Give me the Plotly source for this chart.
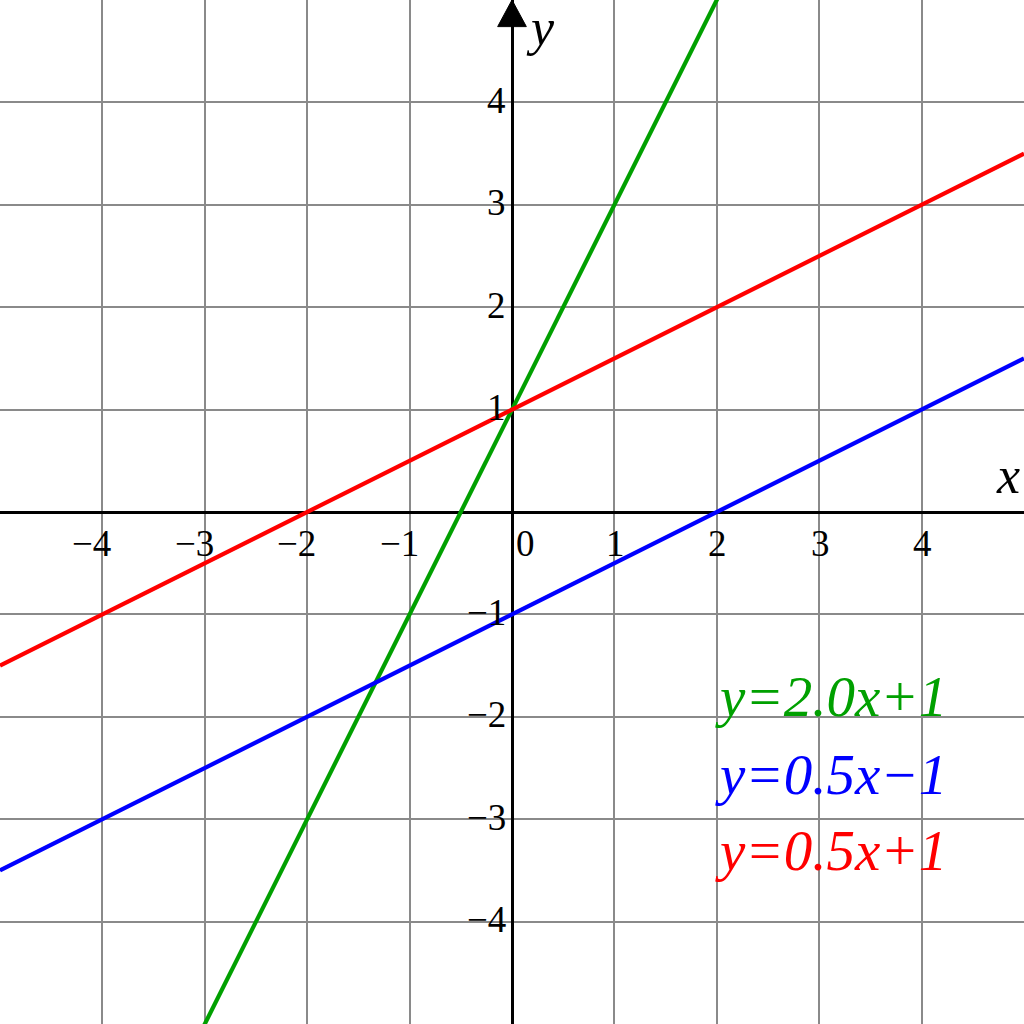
import plotly.graph_objects as go
import numpy as np

# Line definitions (y = m*x + b)
slopes = [2.0, 0.5, 0.5]
intercepts = [1, -1, 1]
colors = ["#00a000", "#0000ff", "#ff0000"]
labels = ["y=2.0x+1", "y=0.5x\u22121", "y=0.5x+1"]
label_y = [-1.80, -2.56, -3.31]
label_x = 2.0

tick_vals = [-4, -3, -2, -1, 1, 2, 3, 4]
x_range = [-5, 5]
y_range = [-5, 5]

SERIF = "Liberation Serif"
TICK_SIZE = 37

fig = go.Figure()

xs = np.array(x_range, dtype=float)
for m, b, c in zip(slopes, intercepts, colors):
    fig.add_trace(go.Scatter(x=xs, y=m * xs + b, mode="lines",
                             line=dict(color=c, width=4.2), showlegend=False,
                             hoverinfo="skip"))

annotations = []
tick_font = dict(family=SERIF, size=TICK_SIZE, color="black")
# x tick labels
for v in tick_vals:
    txt = ("\u2212" + str(-v)) if v < 0 else str(v)
    if v < 0:
        annotations.append(dict(x=v, y=0, xref="x", yref="y", text=txt,
                                showarrow=False, xanchor="right", yanchor="middle",
                                xshift=11, yshift=-31, font=tick_font))
    else:
        annotations.append(dict(x=v, y=0, xref="x", yref="y", text=txt,
                                showarrow=False, xanchor="center", yanchor="middle",
                                xshift=1, yshift=-31, font=tick_font))
# origin label
annotations.append(dict(x=0, y=0, xref="x", yref="y", text="0", showarrow=False,
                        xanchor="left", yanchor="middle", xshift=2, yshift=-31,
                        font=tick_font))
# y tick labels
for v in tick_vals:
    txt = ("\u2212" + str(-v)) if v < 0 else str(v)
    annotations.append(dict(x=0, y=v, xref="x", yref="y", text=txt,
                            showarrow=False, xanchor="right", yanchor="middle",
                            xshift=-4, yshift=2, font=tick_font))
# axis names
annotations.append(dict(x=5, y=0, xref="x", yref="y", text="<i>x</i>", showarrow=False,
                        xanchor="right", yanchor="bottom", xshift=-2, yshift=6,
                        font=dict(family=SERIF, size=52, color="black")))
annotations.append(dict(x=0, y=5, xref="x", yref="y", text="<i>y</i>", showarrow=False,
                        xanchor="left", yanchor="top", xshift=12, yshift=3,
                        font=dict(family=SERIF, size=52, color="black")))
# equation labels
for t, c, ly in zip(labels, colors, label_y):
    annotations.append(dict(x=label_x, y=ly, xref="x", yref="y", text="<i>" + t + "</i>",
                            showarrow=False, xanchor="left", yanchor="middle",
                            xshift=-4,
                            font=dict(family=SERIF, size=57, color=c)))

fig.update_layout(
    width=1024, height=1024,
    margin=dict(l=0, r=0, t=0, b=0),
    plot_bgcolor="white", paper_bgcolor="white",
    showlegend=False,
    annotations=annotations,
    shapes=[dict(type="path", xref="x", yref="y",
                 path="M -0.14 4.74 L 0 5.0 L 0.14 4.74 Z",
                 fillcolor="black", line=dict(color="black", width=1))],
)
fig.update_xaxes(range=x_range, dtick=1, tick0=0, showgrid=True,
                 gridcolor="#8a8a8a", gridwidth=1.5,
                 zeroline=True, zerolinecolor="black", zerolinewidth=2.5,
                 showticklabels=False, ticks="", fixedrange=True)
fig.update_yaxes(range=y_range, dtick=1, tick0=0, showgrid=True,
                 gridcolor="#8a8a8a", gridwidth=1.5,
                 zeroline=True, zerolinecolor="black", zerolinewidth=2.5,
                 showticklabels=False, ticks="", fixedrange=True)

fig.write_html("out.html", config={"displayModeBar": False},
               post_script="document.body.style.margin='0px';document.body.style.overflow='hidden';")
